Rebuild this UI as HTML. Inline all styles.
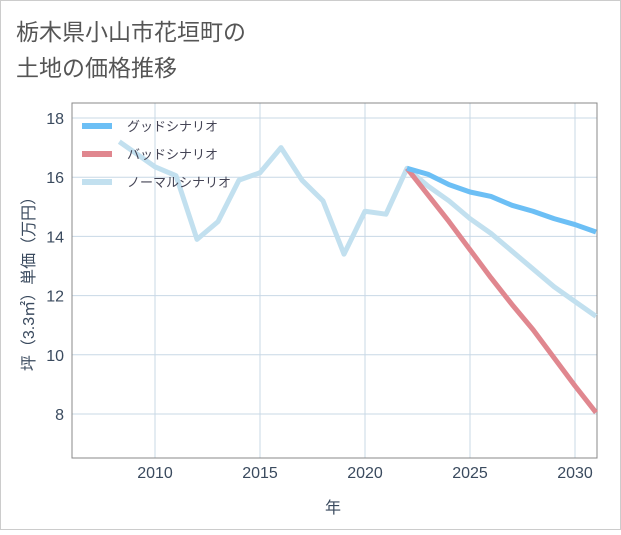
<!DOCTYPE html>
<html><head><meta charset="utf-8"><style>
body{margin:0;background:#fff;font-family:"Liberation Sans","Noto Sans CJK JP",sans-serif;}
</style></head><body>
<svg width="621" height="530" xmlns="http://www.w3.org/2000/svg">
<rect x="0.5" y="0.5" width="620" height="529" fill="#fff" stroke="#ccc"/>
<text x="16" y="40" font-size="23" fill="#555">栃木県小山市花垣町の</text>
<text x="16" y="76" font-size="23" fill="#555">土地の価格推移</text>
<g id="grid"></g>
<rect x="72" y="103" width="525" height="355" fill="none" stroke="#888"/>
<g id="series"></g>
<g id="legend"></g>
<text x="333" y="513" font-size="16" fill="#3a4a5e" text-anchor="middle">年</text>
<text transform="translate(34,280) rotate(-90)" font-size="16" fill="#3a4a5e" text-anchor="middle">坪（3.3㎡）単価（万円）</text>
</svg>
<script>
const normalYears=[2008.3,2010,2011,2012,2013,2014,2015,2016,2017,2018,2019,2020,2021,2022,2023,2024,2025,2026,2027,2028,2029,2030,2031];
const normalVals=[17.2,16.35,16.05,13.9,14.5,15.9,16.15,17.0,15.9,15.2,13.4,14.85,14.75,16.3,15.7,15.2,14.6,14.1,13.5,12.9,12.3,11.8,11.3];
const goodYears=[2022,2023,2024,2025,2026,2027,2028,2029,2030,2031];
const goodVals=[16.3,16.1,15.75,15.5,15.35,15.05,14.85,14.6,14.4,14.15];
const badYears=[2022,2023,2024,2025,2026,2027,2028,2029,2030,2031];
const badVals=[16.3,15.4,14.5,13.55,12.6,11.7,10.85,9.9,8.95,8.05];
const xTicks=[2010,2015,2020,2025,2030];
const yTicks=[8,10,12,14,16,18];
const legendLabels=["グッドシナリオ","バッドシナリオ","ノーマルシナリオ"];
const NS="http://www.w3.org/2000/svg";
const X=y=>155+(y-2010)*21;
const Y=v=>414-(v-8)*29.6;
function mk(t,a,p){const e=document.createElementNS(NS,t);for(const k in a)e.setAttribute(k,a[k]);p.appendChild(e);return e;}
const grid=document.getElementById('grid');
xTicks.forEach(t=>{
  const l=mk('line',{x1:X(t),x2:X(t),y1:103,y2:458,stroke:'#c8d8e6'},grid);
  
  
  const tx=mk('text',{x:X(t),y:478,'font-size':16,fill:'#3a4a5e','text-anchor':'middle'},grid);
  tx.textContent=t;
  
  
});
yTicks.forEach(t=>{
  const l=mk('line',{x1:72,x2:597,y1:Y(t),y2:Y(t),stroke:'#c8d8e6'},grid);
  
  
  const tx=mk('text',{x:64,y:Y(t)+6,'font-size':16,fill:'#3a4a5e','text-anchor':'end'},grid);
  tx.textContent=t;
  
  
});
const sg=document.getElementById('series');
function line(xs,vs,c,name){
  const p=mk('polyline',{points:xs.map((x,i)=>X(x)+','+Y(vs[i])).join(' '),fill:'none',stroke:c,'stroke-width':5,'stroke-linejoin':'round'},sg);
  
  
}
line(normalYears,normalVals,'#c2e0ef','normal-scenario-line');
line(badYears,badVals,'#e0878f','bad-scenario-line');
line(goodYears,goodVals,'#6cbff5','good-scenario-line');
const lg=document.getElementById('legend');
const lc=['#6cbff5','#e0878f','#c2e0ef'];
legendLabels.forEach((s,i)=>{
  const y=126+i*28;
  const l=mk('line',{x1:82,x2:112,y1:y,y2:y,stroke:lc[i],'stroke-width':6},lg);
  
  
  const t=mk('text',{x:127,y:y+5,'font-size':13,fill:'#445'},lg);
  t.textContent=s;
  
  
});
</script>
</body></html>
